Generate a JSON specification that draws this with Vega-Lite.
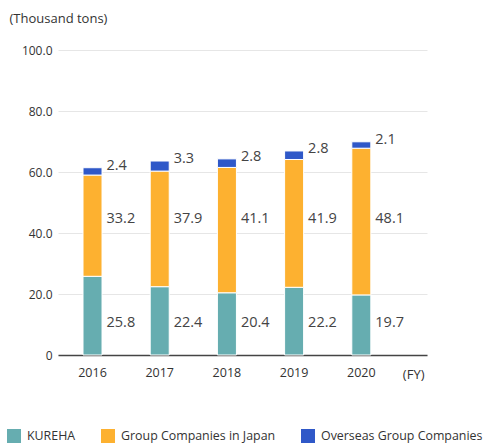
{
  "$schema": "https://vega.github.io/schema/vega-lite/v6.json",
  "width": 369,
  "height": 305,
  "autosize": "none",
  "padding": {"left": 58, "top": 50, "right": 61, "bottom": 88},
  "background": "white",
  "data": {
    "values": [
      {"year": "2016", "series": "KUREHA", "rank": 1, "value": 25.8},
      {"year": "2016", "series": "Group Companies in Japan", "rank": 2, "value": 33.2},
      {"year": "2016", "series": "Overseas Group Companies", "rank": 3, "value": 2.4},
      {"year": "2017", "series": "KUREHA", "rank": 1, "value": 22.4},
      {"year": "2017", "series": "Group Companies in Japan", "rank": 2, "value": 37.9},
      {"year": "2017", "series": "Overseas Group Companies", "rank": 3, "value": 3.3},
      {"year": "2018", "series": "KUREHA", "rank": 1, "value": 20.4},
      {"year": "2018", "series": "Group Companies in Japan", "rank": 2, "value": 41.1},
      {"year": "2018", "series": "Overseas Group Companies", "rank": 3, "value": 2.8},
      {"year": "2019", "series": "KUREHA", "rank": 1, "value": 22.2},
      {"year": "2019", "series": "Group Companies in Japan", "rank": 2, "value": 41.9},
      {"year": "2019", "series": "Overseas Group Companies", "rank": 3, "value": 2.8},
      {"year": "2020", "series": "KUREHA", "rank": 1, "value": 19.7},
      {"year": "2020", "series": "Group Companies in Japan", "rank": 2, "value": 48.1},
      {"year": "2020", "series": "Overseas Group Companies", "rank": 3, "value": 2.1}
    ]
  },
  "encoding": {
    "x": {
      "field": "year",
      "type": "nominal",
      "scale": {"paddingInner": 0.717, "paddingOuter": 0.604, "align": 0.308},
      "axis": {
        "title": "(FY)",
        "titleAngle": 0,
        "titleAnchor": "start",
        "titleAlign": "right",
        "titleBaseline": "middle",
        "titleX": 366,
        "titleY": 19,
        "titleFontSize": 13,
        "titleFontWeight": "normal",
        "titleColor": "#333333",
        "labelAngle": 0,
        "labelFontSize": 12.5,
        "labelColor": "#333333",
        "labelPadding": 11,
        "ticks": false,
        "domainColor": "#444444",
        "domainWidth": 1.5,
        "grid": false
      }
    }
  },
  "layer": [
    {
      "mark": {"type": "bar", "stroke": "white", "strokeWidth": 1},
      "encoding": {
        "y": {
          "field": "value",
          "type": "quantitative",
          "stack": "zero",
          "scale": {"domain": [0, 100]},
          "axis": {
            "values": [0, 20, 40, 60, 80, 100],
            "labelExpr": "datum.value == 0 ? '0' : format(datum.value, '.1f')",
            "title": "(Thousand tons)",
            "titleAngle": 0,
            "titleAlign": "left",
            "titleBaseline": "middle",
            "titleX": -49,
            "titleY": -32,
            "titleFontSize": 13,
            "titleFontWeight": "normal",
            "titleColor": "#333333",
            "labelFontSize": 12,
            "labelColor": "#333333",
            "labelPadding": 6,
            "ticks": false,
            "domain": false,
            "gridColor": "#e6e6e6",
            "gridWidth": 1
          }
        },
        "color": {
          "field": "series",
          "type": "nominal",
          "sort": ["KUREHA", "Group Companies in Japan", "Overseas Group Companies"],
          "scale": {
            "domain": ["KUREHA", "Group Companies in Japan", "Overseas Group Companies"],
            "range": ["#66adb0", "#fdb130", "#2f58c8"]
          },
          "legend": {
            "title": null,
            "orient": "none",
            "direction": "horizontal",
            "legendX": -51,
            "legendY": 379,
            "symbolType": "square",
            "symbolSize": 196,
            "symbolStrokeWidth": 0,
            "symbolOpacity": 1,
            "labelFontSize": 12.4,
            "labelColor": "#333333",
            "labelOffset": 6,
            "columnPadding": 25,
            "labelLimit": 300
          }
        },
        "order": {"field": "rank", "type": "quantitative"}
      }
    },
    {
      "transform": [{"filter": "datum.series == 'KUREHA'"}],
      "mark": {"type": "text", "align": "left", "baseline": "middle", "dx": 14, "fontSize": 14.5, "color": "#444444"},
      "encoding": {
        "y": {"datum": 10.5, "type": "quantitative"},
        "text": {"field": "value", "type": "quantitative", "format": ".1f"}
      }
    },
    {
      "transform": [{"filter": "datum.series == 'Group Companies in Japan'"}],
      "mark": {"type": "text", "align": "left", "baseline": "middle", "dx": 14, "fontSize": 14.5, "color": "#444444"},
      "encoding": {
        "y": {"datum": 44.6, "type": "quantitative"},
        "text": {"field": "value", "type": "quantitative", "format": ".1f"}
      }
    },
    {
      "transform": [
        {"joinaggregate": [{"op": "sum", "field": "value", "as": "total"}], "groupby": ["year"]},
        {"filter": "datum.series == 'Overseas Group Companies'"}
      ],
      "mark": {"type": "text", "align": "left", "baseline": "middle", "dx": 14, "dy": -2, "fontSize": 14.5, "color": "#444444"},
      "encoding": {
        "y": {"field": "total", "type": "quantitative"},
        "text": {"field": "value", "type": "quantitative", "format": ".1f"}
      }
    }
  ],
  "config": {
    "view": {"stroke": null},
    "font": "Open Sans"
  }
}
